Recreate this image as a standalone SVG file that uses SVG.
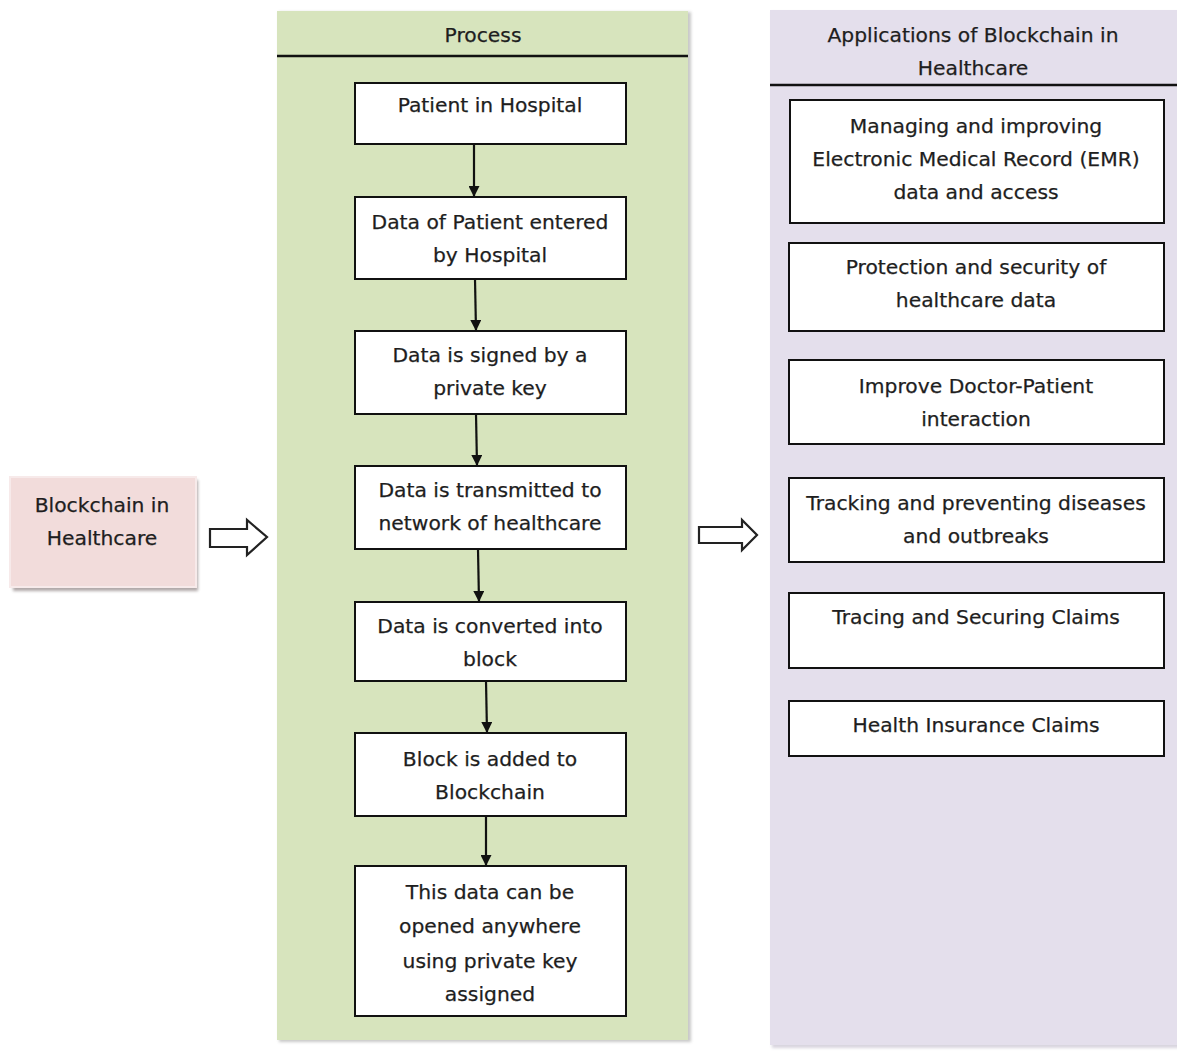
<svg xmlns="http://www.w3.org/2000/svg" width="1177" height="1054" viewBox="0 0 1177 1054">
  <style>
    text { font-family: "DejaVu Sans", "Liberation Sans", sans-serif; font-size: 20.3px; fill: #1e1e1e; text-anchor: middle; stroke: #1e1e1e; stroke-width: 0.25; }
    .box { fill: #ffffff; stroke: #111; stroke-width: 2; }
    .sep { stroke: #111; stroke-width: 2.5; }
    .flow { stroke: #111; stroke-width: 2.2; fill: none; marker-end: url(#head); }
    .hollow { fill: #ffffff; stroke: #222; stroke-width: 2.2; stroke-linejoin: miter; }
  </style>
  <defs>
    <marker id="head" viewBox="0 0 10 10" refX="10" refY="5" markerWidth="11" markerHeight="11" markerUnits="userSpaceOnUse" orient="auto">
      <path d="M0,0 L10,5 L0,10 z" fill="#111"/>
    </marker>
    <filter id="soft" x="-10%" y="-10%" width="130%" height="130%">
      <feGaussianBlur stdDeviation="1.5"/>
    </filter>
  </defs>

  <rect width="1177" height="1054" fill="#ffffff"/>

  <!-- source node -->
  <g id="source">
    <rect x="13" y="480" width="185" height="111" fill="#b0a8a8" filter="url(#soft)"/>
    <rect x="10" y="477" width="186" height="110" fill="#f2dcdb" stroke="#f7eaea" stroke-width="2"/>
    <text x="102" y="512">Blockchain in</text>
    <text x="102" y="545">Healthcare</text>
  </g>

  <!-- process lane -->
  <g id="process-lane">
    <rect x="279" y="12" width="412" height="1030" fill="#c8c8c8" filter="url(#soft)"/>
    <rect x="277" y="11" width="411" height="1029" fill="#d7e4bd"/>
    <line class="sep" x1="277" y1="56" x2="688" y2="56"/>
    <text x="483" y="42">Process</text>
  </g>

  <!-- applications lane -->
  <g id="applications-lane">
    <rect x="772" y="12" width="410" height="1036" fill="#d8d4de" filter="url(#soft)"/>
    <rect x="770" y="10" width="407" height="1035" fill="#e4dfec"/>
    <line class="sep" x1="770" y1="85" x2="1177" y2="85"/>
    <text x="973" y="42">Applications of Blockchain in</text>
    <text x="973" y="75">Healthcare</text>
  </g>

  <!-- process steps -->
  <g id="step-1">
    <rect class="box" x="355" y="83" width="271" height="61"/>
    <text x="490" y="112">Patient in Hospital</text>
  </g>
  <g id="step-2">
    <rect class="box" x="355" y="197" width="271" height="82"/>
    <text x="490" y="229">Data of Patient entered</text>
    <text x="490" y="262">by Hospital</text>
  </g>
  <g id="step-3">
    <rect class="box" x="355" y="331" width="271" height="83"/>
    <text x="490" y="362">Data is signed by a</text>
    <text x="490" y="395">private key</text>
  </g>
  <g id="step-4">
    <rect class="box" x="355" y="466" width="271" height="83"/>
    <text x="490" y="497">Data is transmitted to</text>
    <text x="490" y="530">network of healthcare</text>
  </g>
  <g id="step-5">
    <rect class="box" x="355" y="602" width="271" height="79"/>
    <text x="490" y="633">Data is converted into</text>
    <text x="490" y="666">block</text>
  </g>
  <g id="step-6">
    <rect class="box" x="355" y="733" width="271" height="83"/>
    <text x="490" y="766">Block is added to</text>
    <text x="490" y="799">Blockchain</text>
  </g>
  <g id="step-7">
    <rect class="box" x="355" y="866" width="271" height="150"/>
    <text x="490" y="899">This data can be</text>
    <text x="490" y="933">opened anywhere</text>
    <text x="490" y="968">using private key</text>
    <text x="490" y="1001">assigned</text>
  </g>

  <!-- applications -->
  <g id="app-1">
    <rect class="box" x="790" y="100" width="374" height="123"/>
    <text x="976" y="133">Managing and improving</text>
    <text x="976" y="166">Electronic Medical Record (EMR)</text>
    <text x="976" y="199">data and access</text>
  </g>
  <g id="app-2">
    <rect class="box" x="789" y="243" width="375" height="88"/>
    <text x="976" y="274">Protection and security of</text>
    <text x="976" y="307">healthcare data</text>
  </g>
  <g id="app-3">
    <rect class="box" x="789" y="360" width="375" height="84"/>
    <text x="976" y="393">Improve Doctor-Patient</text>
    <text x="976" y="426">interaction</text>
  </g>
  <g id="app-4">
    <rect class="box" x="789" y="478" width="375" height="84"/>
    <text x="976" y="510">Tracking and preventing diseases</text>
    <text x="976" y="543">and outbreaks</text>
  </g>
  <g id="app-5">
    <rect class="box" x="789" y="593" width="375" height="75"/>
    <text x="976" y="624">Tracing and Securing Claims</text>
  </g>
  <g id="app-6">
    <rect class="box" x="789" y="701" width="375" height="55"/>
    <text x="976" y="732">Health Insurance Claims</text>
  </g>

  <!-- connectors -->
  <g id="connectors">
    <line class="flow" x1="474" y1="144" x2="474" y2="197"/>
    <line class="flow" x1="475" y1="279" x2="476" y2="331"/>
    <line class="flow" x1="476" y1="414" x2="477" y2="466"/>
    <line class="flow" x1="478" y1="549" x2="479" y2="602"/>
    <line class="flow" x1="486" y1="681" x2="487" y2="733"/>
    <line class="flow" x1="486" y1="816" x2="486" y2="866"/>
    <path class="hollow" d="M210,529 L247,529 L247,520 L267,537 L247,555 L247,547 L210,547 Z"/>
    <path class="hollow" d="M699,527 L742,527 L742,520 L757,535 L742,550 L742,543 L699,543 Z"/>
  </g>
</svg>
